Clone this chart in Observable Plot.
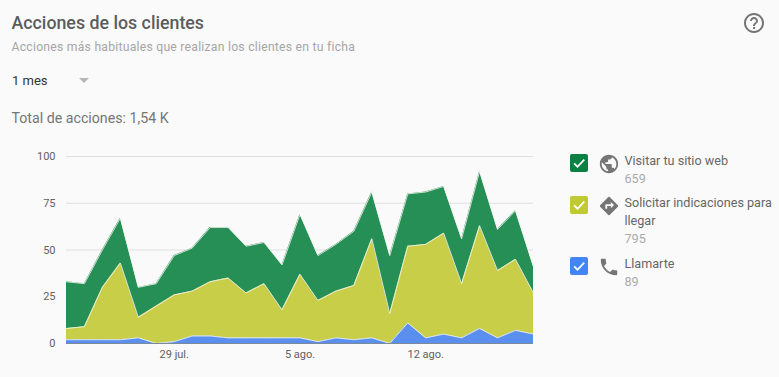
<!DOCTYPE html>
<html lang="es">
<head>
<meta charset="utf-8">
<script src="https://cdn.jsdelivr.net/npm/d3@7"></script>
<script src="https://cdn.jsdelivr.net/npm/@observablehq/plot@0.6"></script>
<style>
html,body{margin:0;padding:0;background:#fafafa;font-family:Roboto,sans-serif;overflow:hidden}
#page{position:relative;width:779px;height:377px;background:#fafafa}
.t{position:absolute;white-space:nowrap}
#title{left:11.500px;top:11px;font-size:17.800px;line-height:24px;font-weight:500;color:#5c5c5c}
#sub{left:11.500px;top:39px;font-size:12.200px;line-height:16px;color:#a6a6a6;letter-spacing:.24px}
#range{left:12px;top:72px;font-size:13px;line-height:18px;color:#333}
#caret{position:absolute;left:79px;top:78px;width:0;height:0;border-left:5.500px solid transparent;border-right:5.500px solid transparent;border-top:5.500px solid #b5b5b5}
#total{left:11.500px;top:108px;font-size:14.200px;line-height:20px;color:#757575}
#help{position:absolute;left:742px;top:11px}
#plot{position:absolute;left:0;top:140px}
.lg{position:absolute;left:570px;width:209px}
.box{position:absolute;left:0;top:0;width:18px;height:18px;border-radius:2px}
.ic{position:absolute;left:28px;top:-1px}
.lab{position:absolute;left:54.500px;top:-2px;width:155px;font-size:12.600px;line-height:18px;color:#666}
.num{color:#aaa;font-size:12.600px}
</style>
</head>
<body>
<div id="page">
<div class="t" id="title">Acciones de los clientes</div>
<div class="t" id="sub">Acciones más habituales que realizan los clientes en tu ficha</div>
<div class="t" id="range">1 mes</div><div id="caret"></div>
<div class="t" id="total">Total de acciones: 1,54 K</div>
<svg id="help" width="24" height="24" viewBox="0 0 24 24"><path fill="#757575" d="M11 18h2v-2h-2v2zm1-16C6.480 2 2 6.480 2 12s4.480 10 10 10 10-4.480 10-10S17.520 2 12 2zm0 18c-4.410 0-8-3.590-8-8s3.590-8 8-8 8 3.590 8 8-3.590 8-8 8zm0-14c-2.210 0-4 1.790-4 4h2c0-1.100.9-2 2-2s2 .9 2 2c0 2-3 1.750-3 5h2c0-2.250 3-2.500 3-5 0-2.210-1.790-4-4-4z"/></svg>
<div id="plot"></div>
<div id="legend"></div>
</div>
<script>
const dates = ["2018-07-23","2018-07-24","2018-07-25","2018-07-26","2018-07-27","2018-07-28","2018-07-29","2018-07-30","2018-07-31","2018-08-01","2018-08-02","2018-08-03","2018-08-04","2018-08-05","2018-08-06","2018-08-07","2018-08-08","2018-08-09","2018-08-10","2018-08-11","2018-08-12","2018-08-13","2018-08-14","2018-08-15","2018-08-16","2018-08-17","2018-08-18"];
const llamarte = [2,2,2,2,3,0,1,4,4,3,3,3,3,3,1,3,2,3,0,11,3,5,3,8,3,7,5];
const indicaciones = [6,7,28,41,11,20,25,24,29,32,24,29,15,34,22,25,29,53,16,41,50,54,29,55,36,38,22];
const sitioWeb = [25,23,20,24,16,12,21,23,29,27,25,22,24,32,24,25,29,25,31,28,28,25,24,29,22,26,14];
const seriesNames = ["Llamarte","Solicitar indicaciones para llegar","Visitar tu sitio web"];
const seriesColors = ["#5a8ff0","#c8ce48","#268f56"];
const yTicks = [0,25,50,75,100];
const xTicks = ["2018-07-29","2018-08-05","2018-08-12"];
const xTickLabels = ["29 jul.","5 ago.","12 ago."];

const parsed = dates.map(d => new Date(d));
const rows = [llamarte, indicaciones, sitioWeb].flatMap((vals, s) =>
  vals.map((v, i) => ({date: parsed[i], value: v, series: seriesNames[s]})));
const labelFor = new Map(xTicks.map((d, i) => [+new Date(d), xTickLabels[i]]));

const chart = Plot.plot({
  width: 779, height: 237,
  marginLeft: 66, marginRight: 246, marginTop: 16, marginBottom: 34,
  style: {background: "transparent", fontFamily: "Roboto, sans-serif", fontSize: "11px", color: "#616161"},
  x: {type: "utc", domain: [parsed[0], parsed[parsed.length - 1]]},
  y: {domain: [0, 100]},
  color: {domain: seriesNames, range: seriesColors},
  marks: [
    Plot.gridY(yTicks, {stroke: "#dfdfdf", strokeOpacity: 1, strokeWidth: 1.2}),
    Plot.axisY({ticks: yTicks, tickSize: 0, tickPadding: 11, label: null, fontSize: 11, fill: "#616161"}),
    Plot.axisX({ticks: xTicks.map(d => new Date(d)), tickFormat: d => labelFor.get(+d), tickSize: 0, tickPadding: 7, label: null, fontSize: 11, fill: "#616161"}),
    Plot.areaY(rows, {x: "date", y: "value", z: "series", fill: "series", order: null}),
    Plot.lineY(rows, Plot.stackY2({x: "date", y: "value", z: "series", order: null, stroke: "#f4f5ec", strokeWidth: 1, strokeOpacity: 0.8})),
    Plot.ruleY([0], {stroke: "#7c8a98", strokeWidth: 1})
  ]
});
document.getElementById("plot").appendChild(chart);

const legendNames = ["Visitar tu sitio web","Solicitar indicaciones para llegar","Llamarte"];
const legendCounts = ["659","795","89"];
const legendColors = ["#0b8043","#c0ca33","#4285f4"];
const legendTops = [154,196,257];
const legendIcons = [
  "M12 2C6.480 2 2 6.480 2 12s4.480 10 10 10 10-4.480 10-10S17.520 2 12 2zm-1 17.930c-3.950-.49-7-3.850-7-7.930 0-.62.08-1.210.21-1.790L9 15v1c0 1.100.9 2 2 2v1.930zm6.900-2.540c-.26-.81-1-1.390-1.900-1.390h-1v-3c0-.55-.45-1-1-1H8v-2h2c.55 0 1-.45 1-1V7h2c1.100 0 2-.9 2-2v-.41c2.930 1.190 5 4.060 5 7.410 0 2.080-.8 3.970-2.100 5.390z",
  "M21.710 11.290l-9-9c-.39-.39-1.020-.39-1.410 0l-9 9c-.39.39-.39 1.020 0 1.410l9 9c.39.39 1.020.39 1.410 0l9-9c.39-.38.39-1.010 0-1.410zM14 14.500V12h-4v3H8v-4c0-.55.45-1 1-1h5V7.500l3.500 3.500-3.500 3.500z",
  "M6.620 10.790c1.440 2.830 3.760 5.140 6.590 6.590l2.200-2.200c.27-.27.67-.36 1.020-.24 1.120.37 2.330.57 3.570.57.55 0 1 .45 1 1V20c0 .55-.45 1-1 1-9.390 0-17-7.610-17-17 0-.55.45-1 1-1h3.500c.55 0 1 .45 1 1 0 1.250.2 2.450.57 3.570.11.35.03.74-.25 1.020l-2.200 2.200z"
];
document.getElementById("legend").innerHTML = legendNames.map((n, i) => `
<div class="lg" style="top:${legendTops[i]}px">
  <div class="box" style="background:${legendColors[i]}"><svg width="18" height="18" viewBox="0 0 24 24"><path fill="none" stroke="#fff" stroke-width="2.400" d="M5.500 12.500l4.500 4.500 9-9.500"/></svg></div>
  <svg class="ic" width="22" height="22" viewBox="0 0 24 24"><path fill="#757575" d="${legendIcons[i]}"/></svg>
  <div class="lab">${n}<br><span class="num">${legendCounts[i]}</span></div>
</div>`).join("");
</script>
</body>
</html>
